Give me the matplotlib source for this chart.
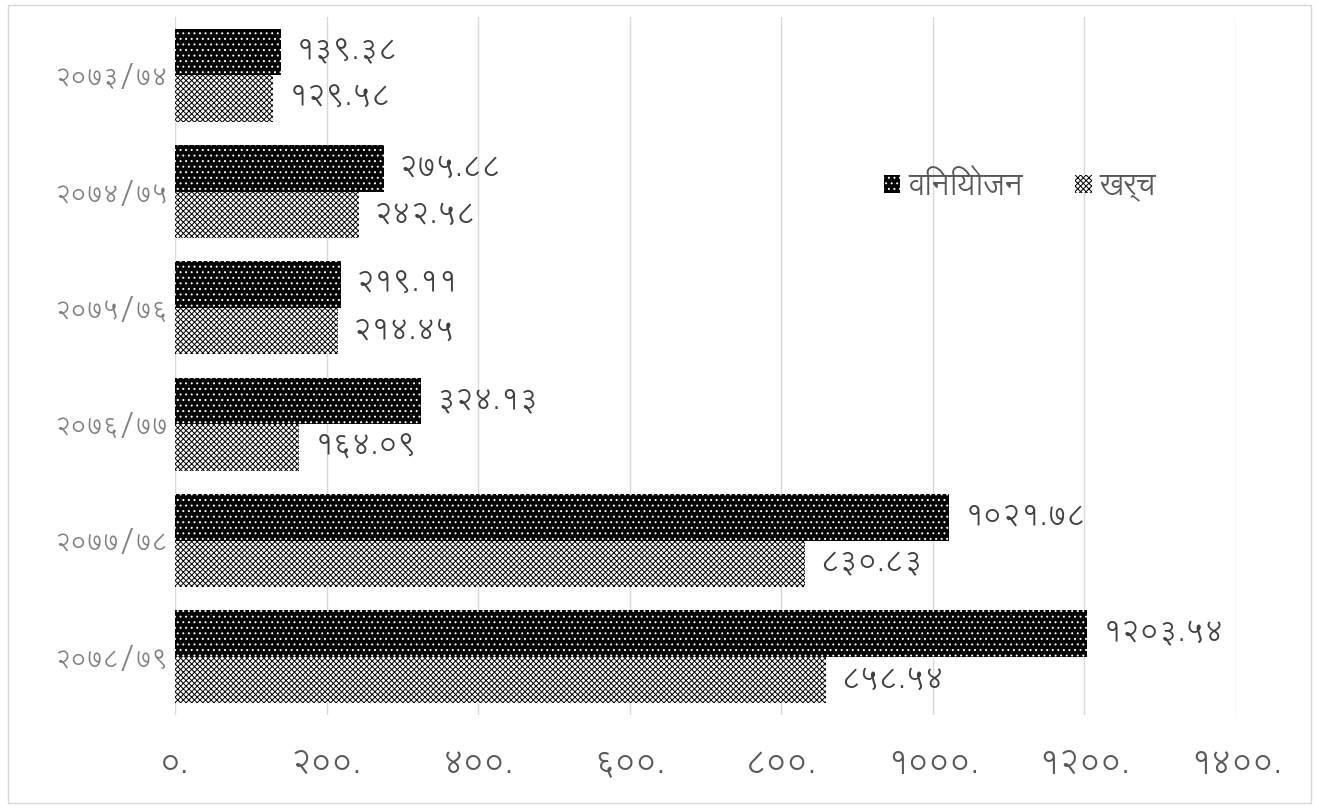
import matplotlib
matplotlib.use("Agg")
import matplotlib.pyplot as plt
import numpy as np

# ---- data ----
categories = ["२०७३/७४", "२०७४/७५", "२०७५/७६", "२०७६/७७", "२०७७/७८", "२०७८/७९"]
appropriation = [139.38, 275.88, 219.11, 324.13, 1021.78, 1203.54]
expenditure = [129.58, 242.58, 214.45, 164.09, 830.83, 858.54]
appropriation_labels = ["१३९.३८", "२७५.८८", "२१९.११", "३२४.१३", "१०२१.७८", "१२०३.५४"]
expenditure_labels = ["१२९.५८", "२४२.५८", "२१४.४५", "१६४.०९", "८३०.८३", "८५८.५४"]
xticks = [0, 200, 400, 600, 800, 1000, 1200, 1400]
xtick_labels = ["०.", "२००.", "४००.", "६००.", "८००.", "१०००.", "१२००.", "१४००."]
series_names = ["विनियोजन", "खर्च"]

plt.rcParams['font.family'] = ["Lohit Devanagari", "Noto Sans Devanagari", "DejaVu Sans"]
plt.rcParams['hatch.linewidth'] = 0.7

fig = plt.figure(figsize=(13.19, 8.08), dpi=100)
ax = fig.add_axes([175/1319, 1-715/808, (1236-175)/1319, (715-17)/808])

n = len(categories)
y = np.arange(n)
h = 0.4
ax.barh(y - h/2, appropriation, height=h, color="black", edgecolor="white",
        linewidth=0, hatch="...", label=series_names[0])
ax.barh(y + h/2, expenditure, height=h, color="white", edgecolor="black",
        linewidth=0, hatch="xxxxxx", label=series_names[1])

for i in range(n):
    ax.text(appropriation[i] + 20, y[i] - h/2, appropriation_labels[i], va="center",
            ha="left", fontsize=21, color="#404040")
    ax.text(expenditure[i] + 20, y[i] + h/2, expenditure_labels[i], va="center",
            ha="left", fontsize=21, color="#404040")

ax.set_ylim(n - 0.5, -0.5)
ax.set_xlim(0, 1400)
ax.set_xticks(xticks)
ax.set_xticklabels(xtick_labels, fontsize=23, color="#595959")
ax.set_yticks(y)
ax.set_yticklabels(categories, fontsize=18, color="#7f7f7f")
ax.tick_params(axis="y", length=0, pad=5)
ax.tick_params(axis="x", length=0, pad=24)
ax.grid(axis="x", color="#d9d9d9", linewidth=1)
ax.set_axisbelow(True)
for s in ax.spines.values():
    s.set_visible(False)

ax.legend(loc="center left", bbox_to_anchor=(0.642, 0.757), ncol=2, frameon=False,
          fontsize=22, labelcolor="#595959", handlelength=0.55, handleheight=0.55,
          columnspacing=1.7, handletextpad=0.25)

fig.patches.append(plt.Rectangle((8/1319, 5/808), 1303/1319, 798/808, transform=fig.transFigure,
                                 fill=False, edgecolor="#d9d9d9", linewidth=1))
fig.savefig("out.png", dpi=100)
